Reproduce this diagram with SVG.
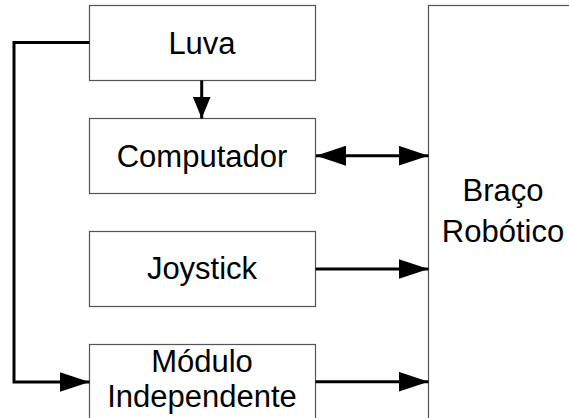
<svg xmlns="http://www.w3.org/2000/svg" width="569" height="418" viewBox="0 0 569 418">
<style>
.box{fill:#fff;stroke:#555;stroke-width:1.2}
.lbl{font-family:"Liberation Sans",Arial,sans-serif;font-size:31px;fill:#000;text-anchor:middle}
.con{fill:none;stroke:#000;stroke-width:3}
</style>
<defs>
<marker id="ah" viewBox="0 0 30 20" refX="30" refY="10" markerWidth="30" markerHeight="20" markerUnits="userSpaceOnUse" orient="auto-start-reverse">
<path d="M0,0 L30,10 L0,20 Z" fill="#000"/>
</marker>
<marker id="ahs" viewBox="0 0 22 18" refX="22" refY="9" markerWidth="22" markerHeight="18" markerUnits="userSpaceOnUse" orient="auto">
<path d="M0,0 L22,9 L0,18 Z" fill="#000"/>
</marker>
</defs>
<rect width="569" height="418" fill="#fff"/>
<g id="luva"><rect class="box" x="89.5" y="5.5" width="226" height="75"/><text class="lbl" x="202" y="53.5">Luva</text></g>
<g id="computador"><rect class="box" x="89.5" y="118.5" width="226" height="75"/><text class="lbl" x="202" y="166.5">Computador</text></g>
<g id="joystick"><rect class="box" x="89.5" y="231.5" width="226" height="75"/><text class="lbl" x="202" y="279">Joystick</text></g>
<g id="modulo"><rect class="box" x="89.5" y="344.5" width="226" height="80"/><text class="lbl" x="202" y="371.5">Módulo</text><text class="lbl" x="202" y="406.5">Independente</text></g>
<g id="braco"><rect class="box" x="428.5" y="5.5" width="150" height="420"/><text class="lbl" x="503" y="201">Braço</text><text class="lbl" x="503" y="241.5">Robótico</text></g>
<g id="connectors">
<path class="con" d="M201.7,80.5 L201.7,118.5" marker-end="url(#ahs)"/>
<path class="con" d="M89.5,42.5 L14,42.5 L14,382 L89.5,382" marker-end="url(#ah)"/>
<path class="con" d="M316,155.7 L428.5,155.7" marker-start="url(#ah)" marker-end="url(#ah)"/>
<path class="con" d="M315.5,269 L428.5,269" marker-end="url(#ah)"/>
<path class="con" d="M315.5,381.7 L428.5,381.7" marker-end="url(#ah)"/>
</g>
</svg>
